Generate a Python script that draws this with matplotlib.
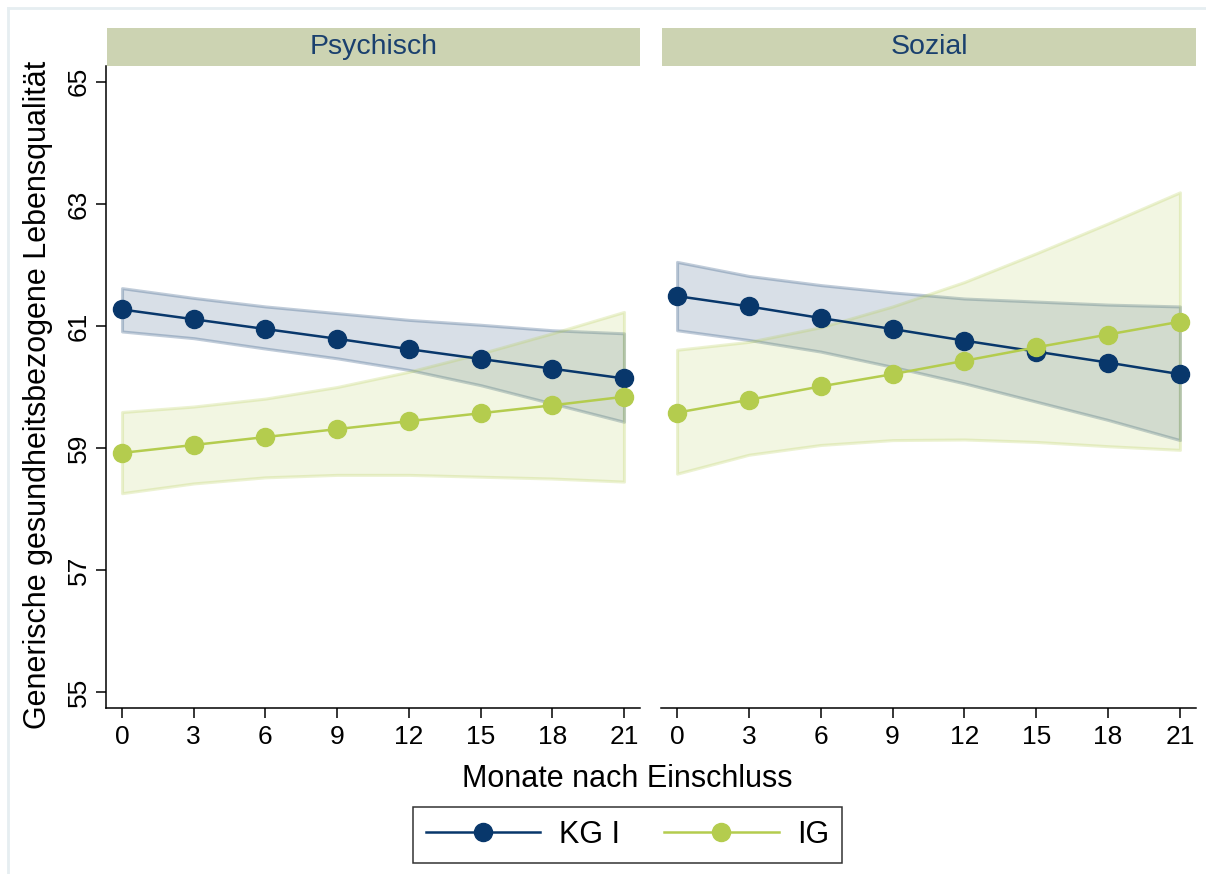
import numpy as np
import matplotlib
matplotlib.use("Agg")
import matplotlib.pyplot as plt
from matplotlib.lines import Line2D

plt.rcParams['font.family'] = ['Liberation Sans', 'DejaVu Sans']

# Predicted quality-of-life scores with 95% CI, by domain and group
months = [0, 3, 6, 9, 12, 15, 18, 21]

psych_kg = [61.27, 61.11, 60.95, 60.79, 60.62, 60.46, 60.30, 60.14]
psych_kg_lo = [60.91, 60.80, 60.63, 60.47, 60.28, 60.03, 59.73, 59.43]
psych_kg_hi = [61.62, 61.46, 61.32, 61.21, 61.10, 61.02, 60.93, 60.88]
psych_ig = [58.92, 59.05, 59.18, 59.31, 59.44, 59.57, 59.70, 59.84]
psych_ig_lo = [58.26, 58.42, 58.52, 58.56, 58.56, 58.53, 58.50, 58.45]
psych_ig_hi = [59.59, 59.68, 59.81, 60.00, 60.25, 60.55, 60.88, 61.23]

sozial_kg = [61.49, 61.32, 61.13, 60.95, 60.76, 60.58, 60.40, 60.21]
sozial_kg_lo = [60.93, 60.77, 60.58, 60.33, 60.06, 59.76, 59.46, 59.13]
sozial_kg_hi = [62.05, 61.82, 61.67, 61.55, 61.45, 61.40, 61.35, 61.32]
sozial_ig = [59.58, 59.79, 60.01, 60.21, 60.43, 60.65, 60.86, 61.07]
sozial_ig_lo = [58.58, 58.89, 59.05, 59.13, 59.14, 59.10, 59.03, 58.97]
sozial_ig_hi = [60.61, 60.74, 60.98, 61.32, 61.72, 62.19, 62.68, 63.19]

panels = ["Psychisch", "Sozial"]
groups = ["KG I", "IG"]
y_ticks = [55, 57, 59, 61, 63, 65]

KG_COLOR = "#08376b"
IG_COLOR = "#b4cc4e"
STRIP_COLOR = "#ccd3b2"
STRIP_TEXT = "#1a406e"

W, H = 1206, 874
fig = plt.figure(figsize=(W / 100, H / 100), dpi=100)


def px_axes(x0, y0, x1, y1):
    # axes from pixel box (top-left origin)
    return fig.add_axes([x0 / W, 1 - y1 / H, (x1 - x0) / W, (y1 - y0) / H])


def rgba(c, a):
    return (*matplotlib.colors.to_rgb(c), a)


# faint outer frame
fig.add_artist(Line2D([8 / W, 8 / W], [0, 1 - 8 / H], transform=fig.transFigure,
                      color="#e6eef1", lw=2))
fig.add_artist(Line2D([8 / W, 1], [1 - 8 / H, 1 - 8 / H], transform=fig.transFigure,
                      color="#e6eef1", lw=2))

data = [
    (psych_kg, psych_kg_lo, psych_kg_hi, psych_ig, psych_ig_lo, psych_ig_hi),
    (sozial_kg, sozial_kg_lo, sozial_kg_hi, sozial_ig, sozial_ig_lo, sozial_ig_hi),
]
boxes = [(106, 640), (661, 1196)]

for i, (name, (kg, kg_lo, kg_hi, ig, ig_lo, ig_hi), (x0, x1)) in enumerate(zip(panels, data, boxes)):
    ax = px_axes(x0, 66, x1, 708)

    ax.fill_between(months, kg_lo, kg_hi, facecolor=rgba(KG_COLOR, 0.155),
                    edgecolor=rgba(KG_COLOR, 0.25), lw=2.2, zorder=1)
    ax.fill_between(months, ig_lo, ig_hi, facecolor=rgba(IG_COLOR, 0.16),
                    edgecolor=rgba(IG_COLOR, 0.25), lw=2.2, zorder=1)
    ax.plot(months, kg, color=KG_COLOR, lw=1.8, marker="o", ms=13, zorder=3)
    ax.plot(months, ig, color=IG_COLOR, lw=1.8, marker="o", ms=13, zorder=4)

    ax.set_xlim(-0.67, 21.67)
    ax.set_ylim(54.74, 65.26)
    ax.set_xticks(months)
    ax.set_yticks(y_ticks)
    ax.tick_params(axis="x", length=7, width=1.1, labelsize=19, pad=5)
    ax.tick_params(axis="y", length=7, width=1.1, labelsize=19, pad=4, labelrotation=90)
    for lbl in ax.get_yticklabels():
        lbl.set_va("center")
    for side in ["top", "right"]:
        ax.spines[side].set_visible(False)
    ax.spines["bottom"].set_linewidth(1.1)
    ax.spines["left"].set_linewidth(1.1)
    if i == 1:
        ax.spines["left"].set_visible(False)
        ax.tick_params(axis="y", left=False, labelleft=False)

    strip = px_axes(x0 + 1, 28, x1, 66)
    strip.set_facecolor(STRIP_COLOR)
    strip.set_xticks([])
    strip.set_yticks([])
    for sp in strip.spines.values():
        sp.set_visible(False)
    strip.text(0.5, 0.5, name, ha="center", va="center", fontsize=20.5, color=STRIP_TEXT,
               transform=strip.transAxes)

fig.text(627 / W, 1 - 779 / H, "Monate nach Einschluss", ha="center", va="center", fontsize=22)
fig.text(38 / W, 1 - 395 / H, "Generische gesundheitsbezogene Lebensqualität",
         ha="center", va="center", rotation=90, fontsize=22)

handles = [
    Line2D([], [], color=KG_COLOR, lw=1.8, marker="o", ms=13),
    Line2D([], [], color=IG_COLOR, lw=1.8, marker="o", ms=13),
]
leg = fig.legend(handles, groups, loc="center", bbox_to_anchor=(627.5 / W, 1 - 835 / H),
                 ncol=2, fontsize=22, frameon=True, fancybox=False, edgecolor="black",
                 handlelength=3.75, handletextpad=0.6, columnspacing=1.45, borderpad=0.42)
leg.get_frame().set_linewidth(1.1)

fig.savefig("out.png", dpi=100, facecolor="white")
